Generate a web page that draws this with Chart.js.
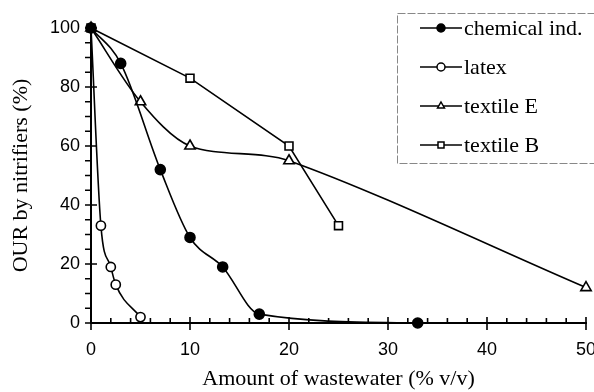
<!DOCTYPE html>
<html lang="en">
<head>
    <meta charset="UTF-8">
    <title>OUR by nitrifiers</title>
    <script src="https://cdn.jsdelivr.net/npm/chart.js"></script>
    <style>
        html, body { margin: 0; padding: 0; background: #fff; }
        #wrap { width: 594px; height: 392px; }
    </style>
</head>
<body>
<div id="wrap"><canvas id="ourChart" width="594" height="392"></canvas></div>

<script>
    // values
    const chemX = [0, 3, 7, 10, 13.3, 17, 33];
    const chemY = [100, 88, 52, 29, 19, 3, 0];
    const latexX = [0, 1, 2, 2.5, 5];
    const latexY = [100, 33, 19, 13, 2];
    const textEX = [0, 5, 10, 20, 50];
    const textEY = [100, 75, 60, 55, 12];
    const textBX = [0, 10, 20, 25];
    const textBY = [100, 83, 60, 33];

    const xTicks = [0, 10, 20, 30, 40, 50];
    const yTicks = [0, 20, 40, 60, 80, 100];

    const serif = "'Liberation Serif', 'Times New Roman', serif";
    const sans = "'Liberation Sans', Arial, sans-serif";

    function pts(xs, ys) {
        return xs.map((x, i) => ({ x: x, y: ys[i] }));
    }

    function series(label, xs, ys, style, fill, radius, mode, tension) {
        return {
            label: label,
            data: pts(xs, ys),
            borderColor: '#000',
            borderWidth: 1.6,
            pointStyle: style,
            pointRadius: radius,
            pointBorderWidth: 1.6,
            pointBackgroundColor: fill,
            pointBorderColor: '#000',
            cubicInterpolationMode: mode,
            tension: tension,
            clip: false
        };
    }

    // own marker drawing for the legend box
    function marker(ctx, style, fill, x, y, r) {
        ctx.save();
        ctx.lineWidth = 1.5;
        ctx.strokeStyle = '#000';
        ctx.fillStyle = fill;
        ctx.beginPath();
        if (style === 'circle') {
            ctx.arc(x, y, r, 0, Math.PI * 2);
        } else if (style === 'triangle') {
            ctx.moveTo(x, y - r);
            ctx.lineTo(x + r * 0.866, y + r * 0.5);
            ctx.lineTo(x - r * 0.866, y + r * 0.5);
            ctx.closePath();
        } else {
            const s = r * 0.75;
            ctx.rect(x - s, y - s, 2 * s, 2 * s);
        }
        ctx.fill();
        ctx.stroke();
        ctx.restore();
    }

    const decorPlugin = {
        id: 'decor',
        afterDraw(chart) {
            const ctx = chart.ctx;
            const xs = chart.scales.x, ys = chart.scales.y;
            const bottom = chart.chartArea.bottom, left = chart.chartArea.left;
            ctx.save();
            ctx.strokeStyle = '#000';
            ctx.lineWidth = 1.6;
            ctx.beginPath();
            for (let v = 0; v <= 50; v += 2) {
                const px = xs.getPixelForValue(v);
                if (v % 10 === 0) { ctx.moveTo(px, bottom - 6); ctx.lineTo(px, bottom + 7); }
                else { ctx.moveTo(px, bottom - 5); ctx.lineTo(px, bottom); }
            }
            for (let v = 0; v <= 100; v += 5) {
                const py = ys.getPixelForValue(v);
                if (v % 20 === 0) { ctx.moveTo(left - 6, py); ctx.lineTo(left + 6, py); }
                else { ctx.moveTo(left - 6, py); ctx.lineTo(left, py); }
            }
            ctx.stroke();

            // legend box
            ctx.strokeStyle = '#888';
            ctx.lineWidth = 1;
            ctx.setLineDash([8, 2]);
            ctx.strokeRect(397.5, 13.5, 220, 150);
            ctx.setLineDash([]);

            ctx.font = '22px ' + serif;
            ctx.fillStyle = '#000';
            ctx.textBaseline = 'middle';
            chart.data.datasets.forEach((ds, i) => {
                const y = 28 + 39 * i;
                ctx.strokeStyle = '#000';
                ctx.lineWidth = 1.6;
                ctx.beginPath();
                ctx.moveTo(420, y);
                ctx.lineTo(462, y);
                ctx.stroke();
                marker(ctx, ds.pointStyle, ds.pointBackgroundColor, 441, y, 4);
                ctx.fillText(ds.label, 464, y + 1);
            });
            ctx.restore();
        }
    };

    const ctx = document.getElementById('ourChart').getContext('2d');
    new Chart(ctx, {
        type: 'line',
        data: {
            datasets: [
                series('chemical ind.', chemX, chemY, 'circle', '#000', 5, 'monotone', 0),
                series('latex', latexX, latexY, 'circle', '#fff', 4.6, 'monotone', 0),
                series('textile E', textEX, textEY, 'triangle', '#fff', 6, 'default', 0.3),
                series('textile B', textBX, textBY, 'rect', '#fff', 5.6, 'default', 0)
            ]
        },
        options: {
            responsive: false,
            animation: false,
            layout: { padding: { top: 28, right: 8, left: 0, bottom: 0 } },
            plugins: { legend: { display: false }, tooltip: { enabled: false } },
            scales: {
                x: {
                    type: 'linear', min: 0, max: 50,
                    afterFit: s => { s.height = 69; s.paddingLeft = 0; s.paddingRight = 0; },
                    afterBuildTicks: s => { s.ticks = xTicks.map(v => ({ value: v })); },
                    ticks: { color: '#000', font: { family: sans, size: 18 }, padding: 16, maxRotation: 0 },
                    grid: { display: false, drawTicks: false },
                    border: { display: true, color: '#000', width: 2 },
                    title: { display: true, text: 'Amount of wastewater (% v/v)', color: '#000',
                             font: { family: serif, size: 22 }, padding: { top: 0, bottom: 0 } }
                },
                y: {
                    min: 0, max: 100,
                    afterFit: s => { s.width = 91; s.paddingTop = 0; s.paddingBottom = 0; },
                    afterBuildTicks: s => { s.ticks = yTicks.map(v => ({ value: v })); },
                    ticks: { color: '#000', font: { family: sans, size: 18 }, padding: 11 },
                    grid: { display: false, drawTicks: false },
                    border: { display: true, color: '#000', width: 2 },
                    title: { display: true, text: 'OUR by nitrifiers (%)', color: '#000',
                             font: { family: serif, size: 22 }, padding: { top: 8, bottom: 0 } }
                }
            }
        },
        plugins: [decorPlugin]
    });
</script>
</body>
</html>
